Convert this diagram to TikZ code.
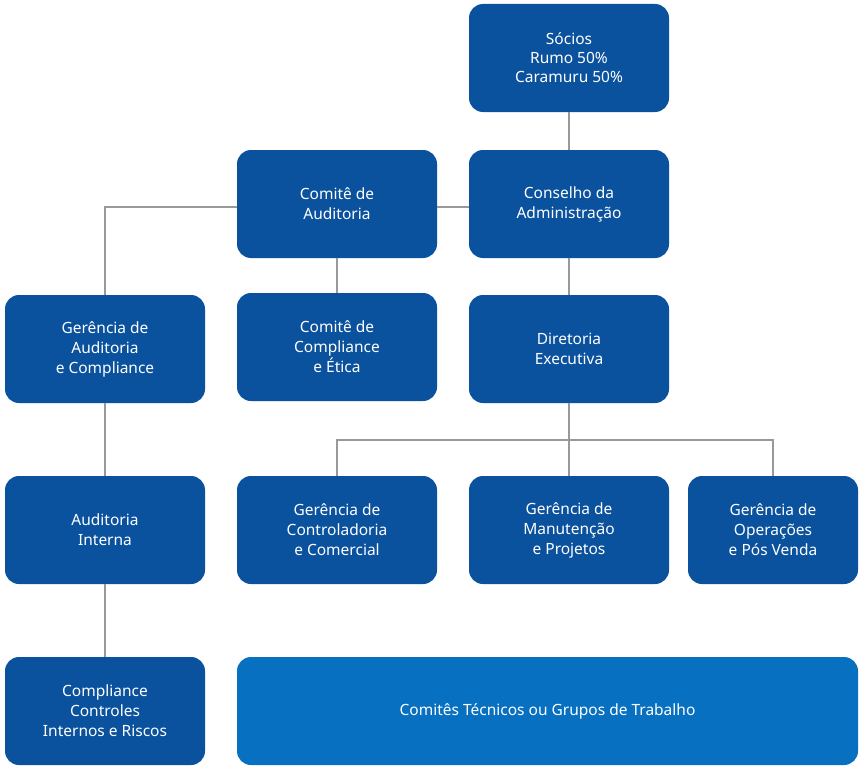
\documentclass[tikz,border=0pt]{standalone}
\usepackage{fontspec}
\setmainfont{Noto Sans}
\begin{document}
\begin{tikzpicture}[x=1pt, y=-1pt,
    caixa/.style={fill=azul, text=white, rounded corners=14pt, minimum width=200pt,
        minimum height=108pt, align=center, font=\fontsize{15.5}{20}\selectfont\bfseries, inner sep=0pt},
    linha/.style={draw=gray!80, line width=1.2pt}]
    \definecolor{azul}{HTML}{0B529E}
    \definecolor{azulclaro}{HTML}{0870C0}
    \useasboundingbox (0,0) rectangle (860,768);

    % Caixas
    \node[caixa] (socios) at (569,58) {S\'ocios\\[-1pt]{\mdseries Rumo 50\%}\\[-1pt]{\mdseries Caramuru 50\%}};
    \node[caixa] (conselho) at (569,204) {Conselho da\\Administra\c{c}\~ao};
    \node[caixa] (comite) at (337,204) {Comit\^e de\\Auditoria};
    \node[caixa] (gerAud) at (105,349) {Ger\^encia de\\Auditoria\\e Compliance};
    \node[caixa] (etica) at (337,347) {Comit\^e de\\Compliance\\e \'Etica};
    \node[caixa] (diretoria) at (569,349) {Diretoria\\Executiva};
    \node[caixa] (interna) at (105,530) {Auditoria\\Interna};
    \node[caixa] (contr) at (337,530) {Ger\^encia de\\Controladoria\\e Comercial};
    \node[caixa] (manut) at (569,530) {Ger\^encia de\\Manuten\c{c}\~ao\\e Projetos};
    \node[caixa, minimum width=170pt] (oper) at (773,530) {Ger\^encia de\\Opera\c{c}\~oes\\e P\'os Venda};
    \node[caixa] (riscos) at (105,711) {Compliance\\Controles\\Internos e Riscos};
    \node[caixa, fill=azulclaro, minimum width=621pt] (tecnicos) at (547.5,711) {Comit\^es T\'ecnicos ou Grupos de Trabalho};

    % Ligacoes
    \begin{scope}[on background layer/.style={}]
    \coordinate (barra) at (569,440);
    \end{scope}
    \draw[linha] (socios) -- (conselho);
    \draw[linha] (comite.east |- 0,207) -- (conselho.west |- 0,207);
    \draw[linha] (comite.west |- 0,207) -| (gerAud);
    \draw[linha] (comite) -- (etica);
    \draw[linha] (conselho) -- (diretoria);
    \draw[linha] (diretoria) -- (barra);
    \foreach \g in {contr,manut,oper}
        \draw[linha] (barra) -| (\g);
    \draw[linha] (gerAud) -- (interna);
    \draw[linha] (interna) -- (riscos);
\end{tikzpicture}
\end{document}
